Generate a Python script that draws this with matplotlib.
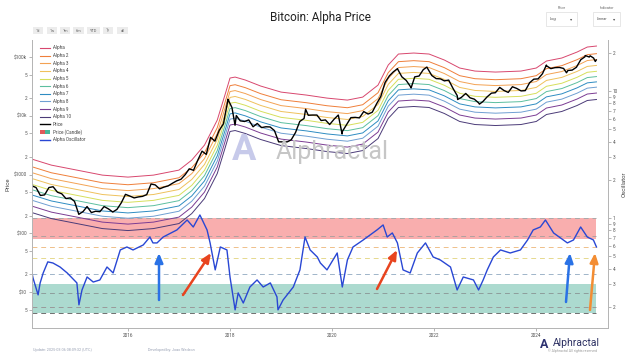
import numpy as np
import pandas as pd
import matplotlib
matplotlib.use('Agg')
import matplotlib.pyplot as plt
from matplotlib.lines import Line2D
from matplotlib.patches import Rectangle

plt.rcParams['font.family'] = ['Roboto', 'DejaVu Sans']

# ---- datos ----
# precio BTC, un valor por mes (mitad de mes), feb 2014 - feb 2025
price_monthly = [
    640, 600, 440, 450, 600, 620, 500, 470, 390, 400, 350,
    210, 235, 285, 225, 237, 233, 285, 260, 230, 255, 330, 460,
    430, 400, 415, 425, 455, 690, 665, 570, 610, 640, 710, 780,
    830, 1000, 1250, 1180, 1750, 2500, 2200, 4300, 3700, 5600, 7300, 17500,
    13800, 10100, 8200, 8000, 8500, 6500, 7400, 6300, 6500, 6450, 5600, 3600,
    3600, 3600, 3900, 5200, 8000, 9000, 10200, 10300, 10300, 8300, 8500, 7100,
    8700, 10300, 5400, 7100, 9300, 9400, 9200, 11800, 10700, 11500, 16000, 21300,
    37000, 48000, 56000, 62000, 46000, 40000, 31500, 46000, 47500, 61000, 64000, 48500,
    43000, 42500, 39300, 40500, 29500, 22000, 20600, 24000, 20200, 19200, 16600, 17400,
    21000, 24300, 24700, 30400, 27000, 25000, 31200, 29200, 26500, 26800, 36500, 42000,
    42500, 52000, 71000, 63500, 66000, 66500, 64000, 59000, 60000, 67000, 90000, 101000,
    100000, 96000,
]
# máximos / mínimos destacados
price_extreme_dates = ['2017-12-17', '2018-02-06', '2019-06-26', '2020-03-13', '2021-04-14',
                       '2021-07-20', '2021-11-10', '2022-06-18', '2022-11-21', '2024-03-14',
                       '2024-08-05', '2024-12-17', '2025-01-21', '2025-02-27', '2025-03-06']
price_extremes = [19100, 6900, 12900, 4900, 63500, 29800, 67500, 18900, 15800, 73000,
                  54000, 106000, 105000, 84000, 89000]

# banda superior (Alpha), años decimales
alpha_years = [2014.12, 2014.5, 2015.0, 2015.5, 2016.0, 2016.5, 2017.0, 2017.25, 2017.5,
               2017.75, 2017.9, 2018.0, 2018.1, 2018.3, 2018.6, 2019.0, 2019.5, 2019.9,
               2020.3, 2020.6, 2020.9, 2021.1, 2021.3, 2021.6, 2021.9, 2022.2, 2022.5,
               2022.8, 2023.2, 2023.7, 2024.0, 2024.2, 2024.5, 2024.8, 2025.0, 2025.18]
alpha_top = [1828, 1445, 1189, 977, 904, 977, 1189, 1758, 3170,
             8450, 22500, 43900, 45600, 40600, 32100, 25300, 22500, 20000,
             18500, 20800, 33300, 73100, 112500, 117000, 112500, 88900, 65000,
             57700, 55500, 57700, 65000, 85500, 96200, 121600, 148000, 153900]
# separación de cada banda respecto a Alpha (décadas)
band_offsets = [0.0, 0.13, 0.23, 0.33, 0.43, 0.52, 0.61, 0.70, 0.80, 0.91]
band_names = ['Alpha', 'Alpha 2', 'Alpha 3', 'Alpha 4', 'Alpha 5',
              'Alpha 6', 'Alpha 7', 'Alpha 8', 'Alpha 9', 'Alpha 10']
band_colors = ['#d8476e', '#ef7f3a', '#f3a253', '#efc15c', '#d6df5c',
               '#5cbf9f', '#2e8cc2', '#6f9fd2', '#7b3c93', '#4b3b78']

# oscilador alpha
osc_years = [2014.12, 2014.14, 2014.24, 2014.28, 2014.34, 2014.43, 2014.53, 2014.67, 2014.81,
             2015.00, 2015.04, 2015.10, 2015.20, 2015.32, 2015.45, 2015.59, 2015.71, 2015.85,
             2015.98, 2016.10, 2016.30, 2016.43, 2016.49, 2016.57, 2016.69, 2016.96, 2017.16,
             2017.28, 2017.41, 2017.55, 2017.61, 2017.71, 2017.81, 2017.94, 2018.00, 2018.10,
             2018.16, 2018.26, 2018.39, 2018.53, 2018.65, 2018.79, 2018.92, 2018.94, 2019.04,
             2019.24, 2019.37, 2019.47, 2019.57, 2019.71, 2019.77, 2019.90, 2020.10, 2020.20,
             2020.30, 2020.41, 2020.61, 2020.88, 2021.00, 2021.08, 2021.18, 2021.28, 2021.39,
             2021.53, 2021.67, 2021.83, 2021.98, 2022.12, 2022.32, 2022.45, 2022.57, 2022.77,
             2022.87, 2022.96, 2023.04, 2023.16, 2023.30, 2023.49, 2023.69, 2023.83, 2023.94,
             2024.08, 2024.18, 2024.34, 2024.61, 2024.73, 2024.87, 2025.00, 2025.12, 2025.18]
osc_values = [0.369, 0.337, 0.248, 0.308, 0.369, 0.451, 0.442, 0.411, 0.369,
              0.308, 0.207, 0.271, 0.343, 0.313, 0.325, 0.411, 0.369, 0.560,
              0.591, 0.560, 0.613, 0.708, 0.636, 0.636, 0.708, 0.805, 0.964,
              0.849, 1.056, 0.805, 0.636, 0.390, 0.591, 0.560, 0.343, 0.189,
              0.257, 0.214, 0.286, 0.325, 0.286, 0.308, 0.239, 0.189, 0.226,
              0.286, 0.390, 0.708, 0.560, 0.493, 0.442, 0.390, 0.530, 0.286,
              0.467, 0.591, 0.671, 0.805, 0.881, 0.708, 0.762, 0.636, 0.390,
              0.369, 0.530, 0.636, 0.493, 0.467, 0.411, 0.271, 0.343, 0.325,
              0.271, 0.325, 0.390, 0.493, 0.560, 0.530, 0.560, 0.671, 0.805,
              0.849, 0.964, 0.762, 0.636, 0.671, 0.849, 0.708, 0.671, 0.591]

# zonas y niveles del oscilador
red_zone = (0.683, 1.0)
green_zone = (0.178, 0.302)
osc_levels = [1.0, 0.72, 0.59, 0.48, 0.36, 0.257, 0.20, 0.178]
osc_level_colors = ['#a9a9a9', '#b0a0a0', '#efc08a', '#e6d98e', '#9fb4c9', '#8e9e9c', '#9a9a9a', '#6f6f6f']

buttons = ['1d', '1w', '1m', '6m', 'YTD', '1y', 'all']


def to_date(years):
    return pd.to_datetime('2014-01-01') + pd.to_timedelta((np.array(years) - 2014) * 365.25, unit='D')


price_dates = pd.date_range('2014-02-01', periods=len(price_monthly), freq='MS') + pd.Timedelta(days=14)
price = pd.concat([pd.Series(price_monthly, index=price_dates),
                   pd.Series(price_extremes, index=pd.to_datetime(price_extreme_dates))]).sort_index()

alpha_dates = to_date(alpha_years)
osc_dates = to_date(osc_years)
t0, t1 = pd.Timestamp('2014-02-14'), pd.Timestamp('2025-03-06')

# ---- figura ----
W, H = 640, 360
fig = plt.figure(figsize=(6.4, 3.6), dpi=100)


def fx(x):
    return x / W


def fy(y):
    return 1 - y / H


ax = fig.add_axes([fx(32), fy(328), fx(608) - fx(32), fy(40) - fy(328)])
ax2 = ax.twinx()
ax.set_zorder(2)
ax2.set_zorder(1)
ax.patch.set_visible(False)

# oscilador (eje derecho)
ax2.set_yscale('log')
ax2.set_ylim(0.136, 25.2)
ax2.fill_between([t0, t1], *red_zone, color='#f9aeae', lw=0, zorder=1)
ax2.fill_between([t0, t1], *green_zone, color='#acdacf', lw=0, zorder=1)
ax2.hlines(osc_levels, t0, t1, colors=osc_level_colors, linestyles=(0, (5, 4)), lw=0.7, zorder=2)
ax2.plot(osc_dates, osc_values, color='#2947d4', lw=1.0, zorder=3)

# precio y bandas (eje izquierdo)
ax.set_yscale('log')
ax.set_ylim(2.44, 195000)
for name, off, c in zip(band_names, band_offsets, band_colors):
    ax.plot(alpha_dates, np.array(alpha_top) * 10 ** (-off), color=c, lw=0.7)
ax.plot(price.index, price.values, color='black', lw=1.0)

ax.set_xlim(pd.Timestamp('2014-02-14'), pd.Timestamp('2025-05-29'))
ax.set_xticks(pd.to_datetime(['2016-01-01', '2018-01-01', '2020-01-01', '2022-01-01', '2024-01-01']))
ax.set_xticklabels(['2016', '2018', '2020', '2022', '2024'])

pt = [100000, 50000, 20000, 10000, 5000, 2000, 1000, 500, 200, 100, 50, 20, 10, 5]
pl = ['$100k', '5', '2', '$10k', '5', '2', '$1000', '5', '2', '$100', '5', '2', '$10', '5']
ax.set_yticks(pt)
ax.set_yticklabels(pl)
ax.yaxis.set_minor_locator(matplotlib.ticker.NullLocator())

ot = [20, 10, 9, 8, 7, 6, 5, 4, 3, 2, 1, 0.9, 0.8, 0.7, 0.6, 0.5, 0.4, 0.3, 0.2]
ol = ['2', '10', '9', '8', '7', '6', '5', '4', '3', '2', '1', '9', '8', '7', '6', '5', '4', '3', '2']
ax2.set_yticks(ot)
ax2.set_yticklabels(ol)
ax2.yaxis.set_minor_locator(matplotlib.ticker.NullLocator())

for a in (ax, ax2):
    a.tick_params(labelsize=3.4, labelcolor='#555', color='#999', length=2, width=0.5, pad=1.5)
    a.spines['top'].set_visible(False)
    for s in ('left', 'right', 'bottom'):
        a.spines[s].set_color('#b5b5b5')
        a.spines[s].set_linewidth(0.7)

# leyenda manual
legend_y0, legend_dy = 48, 7.63
for i, (name, c) in enumerate(zip(band_names, band_colors)):
    y = legend_y0 + i * legend_dy
    fig.add_artist(Line2D([fx(40), fx(50)], [fy(y), fy(y)], color=c, lw=0.8))
    fig.text(fx(53), fy(y), name, fontsize=3.3, color='#444', va='center')
y = legend_y0 + 10 * legend_dy
fig.add_artist(Line2D([fx(40), fx(50)], [fy(y), fy(y)], color='black', lw=1.0))
fig.text(fx(53), fy(y), 'Price', fontsize=3.3, color='#444', va='center')
y = legend_y0 + 11 * legend_dy
fig.add_artist(Rectangle((fx(40), fy(y + 2)), fx(5), 4 / H, facecolor='#e05a5a', lw=0))
fig.add_artist(Rectangle((fx(45), fy(y + 2)), fx(5), 4 / H, facecolor='#48b79a', lw=0))
fig.text(fx(53), fy(y), 'Price (Candle)', fontsize=3.3, color='#444', va='center')
y = legend_y0 + 12 * legend_dy
fig.add_artist(Line2D([fx(40), fx(50)], [fy(y), fy(y)], color='#2947d4', lw=1.0))
fig.text(fx(53), fy(y), 'Alpha Oscillator', fontsize=3.3, color='#444', va='center')

# flechas
arrows = [((159, 300), (159, 253), '#2a72e6'),
          ((183, 295), (211, 253), '#e8441f'),
          ((377, 289), (397, 250), '#e8441f'),
          ((566, 302), (570, 253), '#2a72e6'),
          ((590, 310), (595, 253), '#f38d33')]
for (xa, ya), (xb, yb), c in arrows:
    ax.annotate('', xy=(fx(xb), fy(yb)), xytext=(fx(xa), fy(ya)), xycoords='figure fraction',
                textcoords='figure fraction',
                arrowprops=dict(arrowstyle='-|>,head_width=0.3,head_length=0.7', color=c,
                                lw=1.8, mutation_scale=8, shrinkA=0, shrinkB=0))

# textos
fig.text(0.5, fy(17), 'Bitcoin: Alpha Price', fontsize=8.5, color='#222', ha='center', va='center')
fig.text(fx(8), fy(184), 'Price', fontsize=4.3, color='#444', rotation=90, ha='center', va='center')
fig.text(fx(624), fy(184), 'Oscillator', fontsize=4.3, color='#444', rotation=90, ha='center', va='center')

# botones de rango
bx = [(33, 43), (47, 57), (60, 70), (73, 84), (87, 100), (103, 113), (117, 128)]
for (x0, x1), b in zip(bx, buttons):
    fig.add_artist(Rectangle((fx(x0), fy(34)), fx(x1 - x0), 7 / H, facecolor='#ececec', lw=0))
    fig.text(fx((x0 + x1) / 2), fy(30.5), b, fontsize=2.9, color='#666', ha='center', va='center')

# selectores
for x0, x1, lab, val in [(546, 577, 'Price', 'Log'), (593, 620, 'Indicator', 'Linear')]:
    fig.text(fx((x0 + x1) / 2), fy(8), lab, fontsize=2.6, color='#666', ha='center', va='center')
    fig.add_artist(Rectangle((fx(x0), fy(26)), fx(x1 - x0), 14 / H, facecolor='white',
                             edgecolor='#dddddd', lw=0.5))
    fig.text(fx(x0 + 4), fy(19), val, fontsize=2.9, color='#555', va='center')
    fig.text(fx(x1 - 6), fy(19), '▾', fontsize=3.2, color='#555', va='center', ha='center',
             family='DejaVu Sans')

# marca de agua
fig.text(fx(232), fy(160), 'A', fontsize=26, color='#c7caea', fontweight='bold', va='baseline')
fig.text(fx(276), fy(159), 'Alphractal', fontsize=18, color='#c6c6c6', va='baseline')

# pie
fig.text(fx(33), fy(350), 'Update: 2025-03-06 08:09:32 (UTC)', fontsize=2.7, color='#9aa2b5', va='center')
fig.text(fx(148), fy(350), 'Developed by: Joao Wedson', fontsize=2.7, color='#9aa2b5', va='center')
fig.text(fx(540), fy(348), 'A', fontsize=9, color='#2d3170', fontweight='bold', va='baseline')
fig.text(fx(553), fy(346), 'Alphractal', fontsize=7.5, color='#2d3163', va='baseline')
fig.text(fx(548), fy(351), '© Alphractal All rights reserved', fontsize=2.5, color='#9a9a9a', va='center')

fig.savefig('out.png', dpi=100)
